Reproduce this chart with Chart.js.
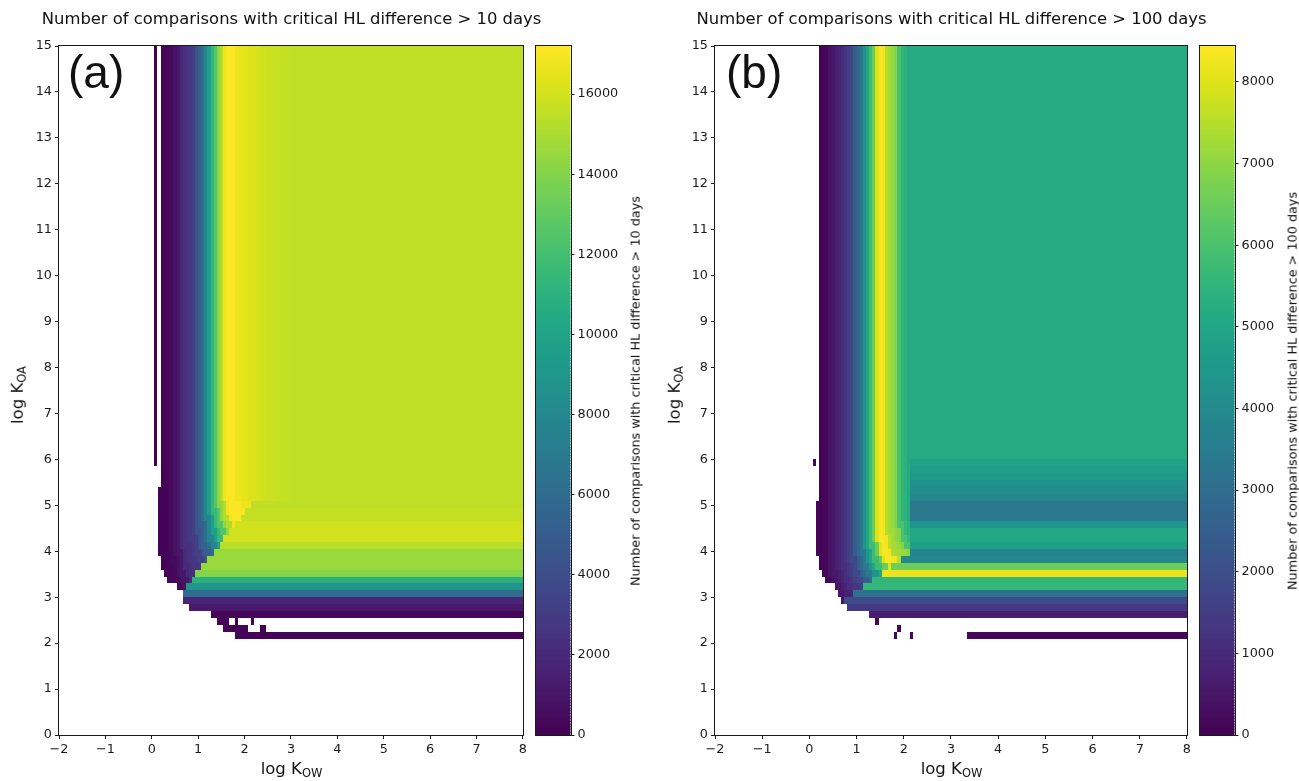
<!DOCTYPE html>
<html>
<head>
<meta charset="utf-8">
<title>Critical HL difference</title>
<script src="https://cdn.jsdelivr.net/npm/chart.js@4.4.1/dist/chart.umd.min.js"></script>
<style>
  body { margin: 0; background: #fff; }
  #page { position: relative; width: 1299px; height: 781px; overflow: hidden; font-family: "DejaVu Sans", sans-serif; color: #111; }
  canvas { position: absolute; top: 0; }
  .txt { position: absolute; white-space: nowrap; line-height: 1; }
  .title { font-size: 16.4px; top: 11px; transform: translateX(-50%); }
  .xlab { font-size: 16.5px; top: 761px; transform: translateX(-50%); }
  .rot { transform: translate(-50%, -50%) rotate(-90deg); }
  .ylab { font-size: 16.5px; }
  .sub { font-size: 11.5px; position: relative; top: 3px; }
  .panel { font-family: "Liberation Sans", Arial, sans-serif; font-size: 46px; top: 49px; }
  .cblab { font-size: 12.8px; }
</style>
</head>
<body>
<div id="page">
  <canvas id="heatA" width="530" height="781" style="left:0px"></canvas>
  <canvas id="barA" width="130" height="781" style="left:520px"></canvas>
  <canvas id="heatB" width="538" height="781" style="left:656px"></canvas>
  <canvas id="barB" width="115" height="781" style="left:1184px"></canvas>

  <div class="txt title" style="left:291.5px">Number of comparisons with critical HL difference &gt; 10 days</div>
  <div class="txt title" style="left:951.5px">Number of comparisons with critical HL difference &gt; 100 days</div>
  <div class="txt panel" style="left:68px">(a)</div>
  <div class="txt panel" style="left:726px">(b)</div>
  <div class="txt xlab" style="left:291.5px">log K<span class="sub">OW</span></div>
  <div class="txt xlab" style="left:951.5px">log K<span class="sub">OW</span></div>
  <div class="txt ylab rot" style="left:18px;top:395px">log K<span class="sub">OA</span></div>
  <div class="txt ylab rot" style="left:675px;top:395px">log K<span class="sub">OA</span></div>
  <div class="txt cblab rot" style="left:636px;top:390.5px">Number of comparisons with critical HL difference &gt; 10 days</div>
  <div class="txt cblab rot" style="left:1293px;top:390.5px">Number of comparisons with critical HL difference &gt; 100 days</div>
</div>
<script>
// DATA

// grid: 150 columns over log Kow -2..8, 100 rows over log Koa 0..15
const kowMin = -2, kowMax = 8;
const koaMin = 0, koaMax = 15;
const colStep = 1 / 15;
const rowStep = 0.15;

// (a) critical HL difference > 10 days
const vmaxA = 17200;
const cbTicksA = [0, 2000, 4000, 6000, 8000, 10000, 12000, 14000, 16000];
// upper part, column by column from log Kow = 0.2 to the right
const colValsA = [100, 200, 300, 450, 800, 1100, 2000, 2300, 2600, 2900, 3300, 4300, 5200, 6200,
  7900, 9600, 11500, 12500, 14300, 15200, 16800, 17200, 17200, 17100, 16800, 16700, 16600, 16500,
  16300, 16300, 16200, 16100, 16000, 15950, 15900, 15850, 15800, 15750, 15700, 15650, 15600, 15550, 15500];
// right part, row by row from log Koa = 2.55 upwards
const rowValsA = [200, 1200, 1800, 6000, 8900, 11000, 14000, 14600, 14600, 14600, 15300, 16000,
  16000, 16000, 15650, 15650, 15500];
// lowest filled log Koa of the first columns (staircase), later columns start at 2.55
const colBottomA = [3.6, 3.45, 3.3, 3.3, 3.3, 3.15, 3.15, 2.85, 2.85, 2.7, 2.7, 2.7, 2.7, 2.7, 2.7, 2.7, 2.55];
// loose pieces: [kowFrom, kowTo, koaFrom, koaTo, value]
const sparseA = [
  [0.05, 0.12, 5.85, 15, 0],
  [0.133, 0.2, 3.9, 5.4, 100],
  [1.4, 1.667, 2.4, 2.55, 100],
  [1.8, 1.867, 2.4, 2.55, 100],
  [2.133, 2.2, 2.4, 2.55, 100],
  [1.533, 2.067, 2.25, 2.4, 100],
  [2.333, 2.467, 2.25, 2.4, 100],
  [1.8, 8, 2.1, 2.25, 100]
];

// (b) critical HL difference > 100 days
const vmaxB = 8440;
const cbTicksB = [0, 1000, 2000, 3000, 4000, 5000, 6000, 7000, 8000];
const colValsB = [50, 100, 150, 400, 550, 700, 850, 1100, 1300, 1550, 1800, 2500, 2900, 3400,
  4400, 5000, 5800, 6500, 8000, 8400, 8300, 7500, 7300, 7100, 6900, 6000, 5600, 5400, 5150];
const rowValsB = [680, 1430, 1860, 3120, 5570, 5570, 8200, 6580, 3970, 3800, 4730, 5060, 5060,
  4390, 3380, 3380, 3380, 3880, 4050, 4220, 4560, 4730, 4900, 5150];
const colBottomB = [3.6, 3.45, 3.3, 3.3, 3.3, 3.15, 3.0, 2.85, 2.85, 2.7, 2.7, 2.7, 2.7, 2.7, 2.7, 2.7, 2.55];
const sparseB = [
  [0.067, 0.133, 5.85, 6.0, 100],
  [0.133, 0.2, 3.9, 5.1, 100],
  [1.4, 1.467, 2.4, 2.55, 100],
  [1.867, 1.933, 2.25, 2.4, 100],
  [1.8, 1.867, 2.1, 2.25, 100],
  [2.133, 2.2, 2.1, 2.25, 100],
  [3.333, 8, 2.1, 2.25, 100]
];

// how the two profiles meet in the corner (peak position from the edges, roundness)
const panelA = { vmax: vmaxA, cols: colValsA, rows: rowValsA, bottoms: colBottomA, sparse: sparseA,
  x0: 0.2, y0: 2.55, peakX: 1.47, peakY: 1.87, soft: 0.5 };
const panelB = { vmax: vmaxB, cols: colValsB, rows: rowValsB, bottoms: colBottomB, sparse: sparseB,
  x0: 0.2, y0: 2.55, peakX: 1.3, peakY: 0.975, soft: 0.7 };

// COLOURS

const viridisStops = ['#440154', '#471365', '#482475', '#463480', '#414487', '#3b528b', '#355f8d',
  '#2f6c8e', '#2a788e', '#25848e', '#21918c', '#1e9c89', '#22a884', '#2fb47c', '#44bf70', '#5ec962',
  '#7ad151', '#9bd93c', '#bddf26', '#dfe318', '#fde725'];
const viridisRGB = viridisStops.map(h => [1, 3, 5].map(i => parseInt(h.slice(i, i + 2), 16)));

function viridis(t) {
  t = Math.min(1, Math.max(0, t));
  const f = t * (viridisRGB.length - 1);
  const i = Math.min(Math.floor(f), viridisRGB.length - 2);
  const k = f - i;
  const a = viridisRGB[i], b = viridisRGB[i + 1];
  return 'rgb(' + [0, 1, 2].map(c => Math.round(a[c] + (b[c] - a[c]) * k)).join(',') + ')';
}

function pick(arr, k) {
  return arr[Math.max(0, Math.min(arr.length - 1, k))];
}

// column i, row j counted from x0 / y0; rows stay flat, the columns bend round the corner
function cellValue(p, i, j) {
  if (j >= p.rows.length) return pick(p.cols, i);
  const u = (i + 0.5) * colStep / p.peakX;
  const v = (j + 0.5) * rowStep / p.peakY;
  if (i >= p.cols.length || u > v) return p.rows[Math.max(0, j)];
  const e = -p.soft * Math.log10(Math.pow(10, -u / p.soft) + Math.pow(10, -v / p.soft));
  return pick(p.cols, Math.floor(e * p.peakX / colStep + 1e-6));
}

// PLUGINS

function heatmapPlugin(p) {
  return {
    id: 'heatmap',
    beforeDatasetsDraw(chart) {
      const { ctx, chartArea, scales: { x, y } } = chart;
      const fill = (xa, xb, ya, yb, val) => {
        const l = Math.round(x.getPixelForValue(xa)), r = Math.round(x.getPixelForValue(xb));
        const t = Math.round(y.getPixelForValue(yb)), b = Math.round(y.getPixelForValue(ya));
        ctx.fillStyle = viridis(val / p.vmax);
        ctx.fillRect(l, t, Math.max(1, r - l), b - t);
      };
      ctx.save();
      ctx.beginPath();
      ctx.rect(chartArea.left, chartArea.top, chartArea.width, chartArea.height);
      ctx.clip();
      const nCols = Math.round((kowMax - p.x0) / colStep);
      const nRows = Math.round((koaMax - koaMin) / rowStep);
      const j0 = Math.round(p.y0 / rowStep);
      for (let i = 0; i < nCols; i++) {
        const xa = p.x0 + i * colStep;
        const bottom = i < p.bottoms.length ? p.bottoms[i] : p.y0;
        for (let j = Math.round(bottom / rowStep); j < nRows; j++) {
          const ya = j * rowStep;
          fill(xa, xa + colStep, ya, ya + rowStep, cellValue(p, i, j - j0));
        }
      }
      p.sparse.forEach(s => fill(s[0], s[1], s[2], s[3], s[4]));
      ctx.restore();
    }
  };
}

function colorbarPlugin(vmax) {
  return {
    id: 'colorbar',
    beforeDatasetsDraw(chart) {
      const { ctx, chartArea, scales: { y } } = chart;
      const n = 256;
      ctx.save();
      for (let i = 0; i < n; i++) {
        const t = Math.floor(y.getPixelForValue(vmax * (i + 1) / n));
        const b = Math.ceil(y.getPixelForValue(vmax * i / n));
        ctx.fillStyle = viridis((i + 0.5) / n);
        ctx.fillRect(chartArea.left, t, chartArea.width, b - t);
      }
      ctx.restore();
    }
  };
}

const framePlugin = {
  id: 'frame',
  afterDraw(chart) {
    const { ctx, chartArea: a } = chart;
    ctx.save();
    ctx.strokeStyle = '#1a1a1a';
    ctx.lineWidth = 1;
    ctx.strokeRect(Math.round(a.left) - 0.5, Math.round(a.top) - 0.5,
      Math.round(a.right) - Math.round(a.left) + 1, Math.round(a.bottom) - Math.round(a.top) + 1);
    ctx.restore();
  }
};

// CHARTS

const tickFont = { family: 'DejaVu Sans', size: 12.8 };
const gridStyle = { drawOnChartArea: false, drawTicks: true, tickLength: 4, color: '#1a1a1a', lineWidth: 1 };
const fmt = v => (v < 0 ? '\u2212' + Math.abs(v) : String(v));

function makeHeatmap(id, p) {
  return new Chart(document.getElementById(id), {
    type: 'scatter',
    data: { datasets: [] },
    options: {
      responsive: false,
      animation: false,
      layout: { padding: { top: 46, right: 6, left: 0, bottom: 0 } },
      plugins: { legend: { display: false }, tooltip: { enabled: false } },
      scales: {
        x: {
          type: 'linear', min: kowMin, max: kowMax,
          ticks: { stepSize: 1, autoSkip: false, maxRotation: 0, padding: 3, color: '#1a1a1a', font: tickFont, callback: fmt },
          grid: gridStyle, border: { display: false },
          afterFit(s) { s.height = 46; }
        },
        y: {
          type: 'linear', min: koaMin, max: koaMax,
          ticks: { stepSize: 1, autoSkip: false, padding: 3, color: '#1a1a1a', font: tickFont, callback: fmt },
          grid: gridStyle, border: { display: false },
          afterFit(s) { s.width = 59; }
        }
      }
    },
    plugins: [heatmapPlugin(p), framePlugin]
  });
}

function makeColorbar(id, vmax, tickValues, barWidth) {
  const canvas = document.getElementById(id);
  const axisWidth = canvas.width - 16 - barWidth;
  return new Chart(canvas, {
    type: 'scatter',
    data: { datasets: [] },
    options: {
      responsive: false,
      animation: false,
      layout: { padding: { left: 16, top: 46, bottom: 46, right: 0 } },
      plugins: { legend: { display: false }, tooltip: { enabled: false } },
      scales: {
        x: { display: false, min: 0, max: 1 },
        y: {
          position: 'right', min: 0, max: vmax,
          ticks: { autoSkip: false, padding: 3, color: '#1a1a1a', font: tickFont, callback: fmt },
          grid: gridStyle, border: { display: false },
          afterBuildTicks(s) { s.ticks = tickValues.map(v => ({ value: v })); },
          afterFit(s) { s.width = axisWidth; }
        }
      }
    },
    plugins: [colorbarPlugin(vmax), framePlugin]
  });
}

makeHeatmap('heatA', panelA);
makeColorbar('barA', vmaxA, cbTicksA, 34.5);
makeHeatmap('heatB', panelB);
makeColorbar('barB', vmaxB, cbTicksB, 34.5);
</script>
</body>
</html>
